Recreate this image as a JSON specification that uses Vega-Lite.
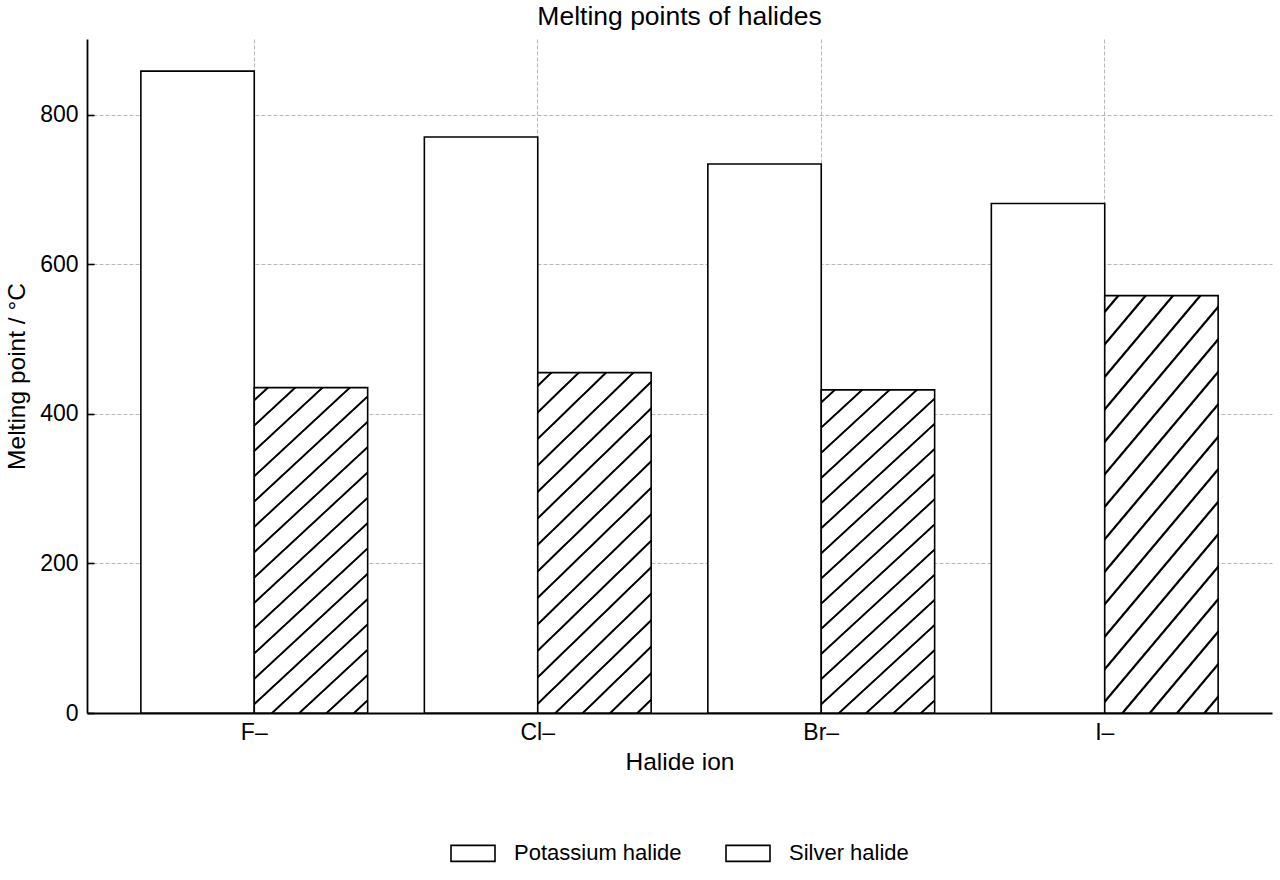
{
  "$schema": "https://vega.github.io/schema/vega-lite/v6.json",
  "width": 1185,
  "height": 674,
  "autosize": {"type": "none"},
  "padding": {"left": 87, "top": 39, "right": 8, "bottom": 167},
  "title": {
    "text": "Melting points of halides",
    "fontSize": 26.5,
    "fontWeight": "normal",
    "baseline": "bottom",
    "offset": 8,
    "dy": 26,
    "anchor": "middle"
  },
  "data": {
    "values": [
      {"ion": "F–", "series": "Potassium halide", "mp": 858},
      {"ion": "F–", "series": "Silver halide", "mp": 435},
      {"ion": "Cl–", "series": "Potassium halide", "mp": 770},
      {"ion": "Cl–", "series": "Silver halide", "mp": 455},
      {"ion": "Br–", "series": "Potassium halide", "mp": 734},
      {"ion": "Br–", "series": "Silver halide", "mp": 432},
      {"ion": "I–", "series": "Potassium halide", "mp": 681},
      {"ion": "I–", "series": "Silver halide", "mp": 558}
    ]
  },
  "mark": {"type": "bar", "stroke": "black", "strokeWidth": 1.6},
  "encoding": {
    "x": {
      "field": "ion",
      "type": "nominal",
      "sort": ["F–", "Cl–", "Br–", "I–"],
      "title": "Halide ion",
      "scale": {"paddingInner": 0.2, "paddingOuter": 0.19},
      "axis": {
        "labelAngle": 0,
        "bandPosition": 0.5,
        "tickSize": -7,
        "labelPadding": 15,
        "titlePadding": 6
      }
    },
    "xOffset": {
      "field": "series",
      "type": "nominal",
      "sort": ["Potassium halide", "Silver halide"],
      "scale": {"paddingInner": 0, "paddingOuter": 0}
    },
    "y": {
      "field": "mp",
      "type": "quantitative",
      "title": "Melting point / °C",
      "scale": {"domain": [0, 901], "nice": false},
      "axis": {
        "values": [0, 200, 400, 600, 800],
        "tickSize": -7,
        "labelPadding": 16,
        "titlePadding": 10
      }
    },
    "stroke": {
      "field": "series",
      "type": "nominal",
      "scale": {"domain": ["Potassium halide", "Silver halide"], "range": ["black", "black"]},
      "legend": {
        "title": null,
        "orient": "none",
        "direction": "horizontal",
        "legendX": 363,
        "legendY": 791,
        "padding": 0,
        "symbolType": "M-1,-0.3636H1V0.3636H-1Z",
        "symbolSize": 1936,
        "symbolStrokeWidth": 1.6,
        "labelFontSize": 22,
        "labelLimit": 400,
        "labelOffset": 18,
        "columnPadding": 40
      }
    },
    "fill": {
      "condition": {
        "test": "datum.series === 'Silver halide'",
        "value": {
          "gradient": "linear",
          "x1": 0, "y1": 0, "x2": 0.387, "y2": 1.198,
          "stops": [
            {"offset": 0, "color": "white"},
            {"offset": 0.0249, "color": "white"}, {"offset": 0.0276, "color": "black"}, {"offset": 0.0312, "color": "black"}, {"offset": 0.0339, "color": "white"},
            {"offset": 0.0837, "color": "white"}, {"offset": 0.0864, "color": "black"}, {"offset": 0.0900, "color": "black"}, {"offset": 0.0927, "color": "white"},
            {"offset": 0.1426, "color": "white"}, {"offset": 0.1453, "color": "black"}, {"offset": 0.1489, "color": "black"}, {"offset": 0.1516, "color": "white"},
            {"offset": 0.2014, "color": "white"}, {"offset": 0.2041, "color": "black"}, {"offset": 0.2077, "color": "black"}, {"offset": 0.2104, "color": "white"},
            {"offset": 0.2602, "color": "white"}, {"offset": 0.2629, "color": "black"}, {"offset": 0.2665, "color": "black"}, {"offset": 0.2692, "color": "white"},
            {"offset": 0.3190, "color": "white"}, {"offset": 0.3217, "color": "black"}, {"offset": 0.3253, "color": "black"}, {"offset": 0.3280, "color": "white"},
            {"offset": 0.3779, "color": "white"}, {"offset": 0.3806, "color": "black"}, {"offset": 0.3842, "color": "black"}, {"offset": 0.3869, "color": "white"},
            {"offset": 0.4367, "color": "white"}, {"offset": 0.4394, "color": "black"}, {"offset": 0.4430, "color": "black"}, {"offset": 0.4457, "color": "white"},
            {"offset": 0.4955, "color": "white"}, {"offset": 0.4982, "color": "black"}, {"offset": 0.5018, "color": "black"}, {"offset": 0.5045, "color": "white"},
            {"offset": 0.5543, "color": "white"}, {"offset": 0.5570, "color": "black"}, {"offset": 0.5606, "color": "black"}, {"offset": 0.5633, "color": "white"},
            {"offset": 0.6131, "color": "white"}, {"offset": 0.6158, "color": "black"}, {"offset": 0.6194, "color": "black"}, {"offset": 0.6221, "color": "white"},
            {"offset": 0.6720, "color": "white"}, {"offset": 0.6747, "color": "black"}, {"offset": 0.6783, "color": "black"}, {"offset": 0.6810, "color": "white"},
            {"offset": 0.7308, "color": "white"}, {"offset": 0.7335, "color": "black"}, {"offset": 0.7371, "color": "black"}, {"offset": 0.7398, "color": "white"},
            {"offset": 0.7896, "color": "white"}, {"offset": 0.7923, "color": "black"}, {"offset": 0.7959, "color": "black"}, {"offset": 0.7986, "color": "white"},
            {"offset": 0.8484, "color": "white"}, {"offset": 0.8511, "color": "black"}, {"offset": 0.8547, "color": "black"}, {"offset": 0.8574, "color": "white"},
            {"offset": 0.9073, "color": "white"}, {"offset": 0.9100, "color": "black"}, {"offset": 0.9136, "color": "black"}, {"offset": 0.9163, "color": "white"},
            {"offset": 0.9661, "color": "white"}, {"offset": 0.9688, "color": "black"}, {"offset": 0.9724, "color": "black"}, {"offset": 0.9751, "color": "white"},
            {"offset": 1, "color": "white"}
          ]
        }
      },
      "value": "white"
    }
  },
  "config": {
    "font": "Liberation Sans",
    "view": {"stroke": null},
    "axis": {
      "labelFont": "Liberation Sans",
      "titleFont": "Liberation Sans",
      "labelFontSize": 23,
      "titleFontSize": 24.5,
      "titleFontWeight": "normal",
      "labelColor": "black",
      "titleColor": "black",
      "domainColor": "black",
      "domainWidth": 1.8,
      "tickColor": "black",
      "tickWidth": 1.6,
      "gridColor": "#b0b0b0",
      "gridDash": [4, 2],
      "gridWidth": 0.9
    },
    "axisX": {"grid": true},
    "axisY": {"grid": true},
    "legend": {"labelFont": "Liberation Sans", "labelColor": "black"},
    "title": {"font": "Liberation Sans", "color": "black"}
  }
}
